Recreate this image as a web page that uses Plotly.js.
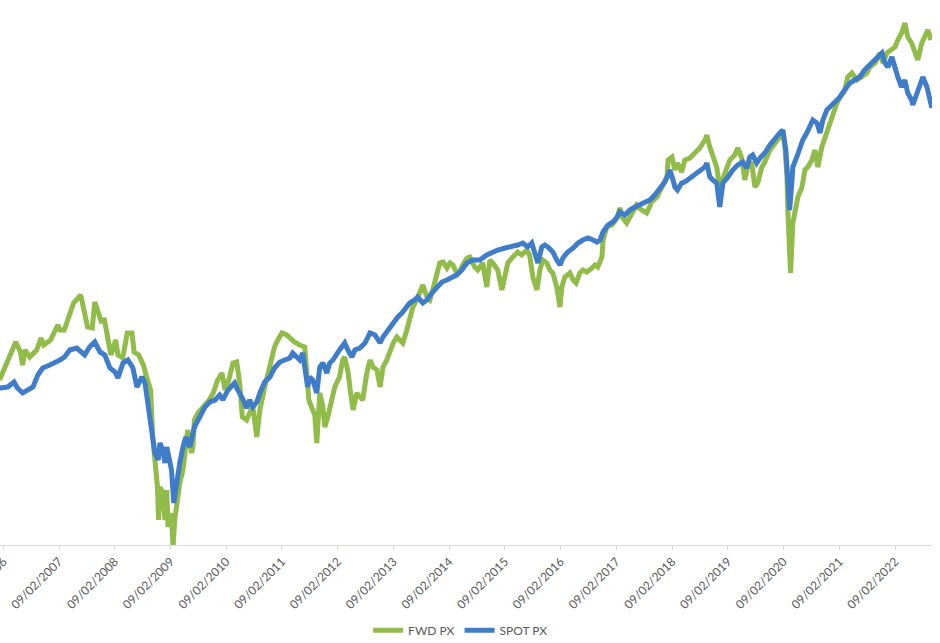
<!DOCTYPE html>
<html>
<head>
<meta charset="utf-8">
<script src="https://cdn.plot.ly/plotly-3.0.1.min.js"></script>
<style>
html,body{margin:0;padding:0;background:#fff;}
#chart{width:940px;height:643px;}
</style>
</head>
<body>
<div id="chart"></div>
<script>
const seriesNames = ['FWD PX', 'SPOT PX'];

const fwdDates = [
'2006-01-15','2006-03-15','2006-05-01','2006-06-01','2006-06-15','2006-07-01','2006-08-01','2006-09-15','2006-10-15','2006-11-01','2006-12-15',
'2007-02-01','2007-02-15','2007-03-15','2007-04-15','2007-05-15','2007-07-01','2007-07-15','2007-08-15','2007-09-15','2007-10-01','2007-10-15','2007-11-15','2007-12-01',
'2008-01-01','2008-01-15','2008-02-15','2008-03-01','2008-04-01','2008-05-01','2008-06-01','2008-06-15','2008-07-15','2008-08-15','2008-09-01','2008-10-01','2008-10-15','2008-11-01','2008-11-15','2008-11-22','2008-12-01','2008-12-20',
'2009-01-03','2009-01-15','2009-01-23','2009-02-15','2009-02-25','2009-03-08','2009-03-20','2009-04-10','2009-05-01','2009-05-20','2009-06-01','2009-06-27','2009-07-05','2009-07-15','2009-08-08','2009-09-10','2009-10-20','2009-11-15','2009-12-15',
'2010-01-12','2010-02-01','2010-02-20','2010-03-25','2010-04-18','2010-05-08','2010-05-25','2010-06-22','2010-07-12','2010-08-02','2010-08-28','2010-09-17','2010-10-19','2010-11-08','2010-12-05','2010-12-22',
'2011-01-13','2011-02-09','2011-03-12','2011-04-13','2011-05-02','2011-06-04','2011-07-08','2011-07-20','2011-08-04','2011-08-24','2011-09-12','2011-09-25','2011-10-02','2011-10-15','2011-11-04','2011-11-17','2011-12-06',
'2012-01-02','2012-01-21','2012-02-21','2012-03-13','2012-03-26','2012-04-18','2012-05-01','2012-05-20','2012-06-13','2012-07-03','2012-07-22','2012-08-18','2012-09-08','2012-09-27','2012-10-23','2012-11-13','2012-12-02','2012-12-27',
'2013-01-16','2013-02-07','2013-03-03','2013-03-22','2013-04-11','2013-05-07','2013-05-26','2013-06-16','2013-07-11','2013-08-01','2013-08-20','2013-09-16','2013-10-05','2013-10-24','2013-11-20','2013-12-09','2013-12-31',
'2014-01-25','2014-02-14','2014-03-05','2014-03-30','2014-04-19','2014-05-09','2014-06-05','2014-06-24','2014-07-26','2014-08-15','2014-09-17','2014-10-13','2014-11-03','2014-11-22','2014-12-24',
'2015-01-20','2015-02-10','2015-02-28','2015-04-02','2015-05-04','2015-05-30','2015-07-02','2015-07-21','2015-08-11','2015-09-07','2015-09-26','2015-10-15','2015-11-11','2015-12-01','2015-12-20',
'2016-01-15','2016-02-05','2016-02-17','2016-03-08','2016-04-10','2016-05-01','2016-05-20','2016-06-14','2016-07-04','2016-07-30','2016-09-02','2016-09-21','2016-10-10','2016-10-24','2016-11-06','2016-11-13','2016-12-08',
'2017-01-11','2017-02-13','2017-03-03','2017-03-22','2017-04-17','2017-05-19','2017-06-21','2017-07-24','2017-08-26','2017-09-28','2017-11-02','2017-12-04',
'2018-01-06','2018-01-13','2018-02-08','2018-02-27','2018-03-16','2018-04-12','2018-05-03','2018-06-05','2018-07-07','2018-08-09','2018-09-12','2018-09-24','2018-10-14','2018-11-03','2018-11-28','2018-12-18',
'2019-01-20','2019-02-22','2019-03-26','2019-04-15','2019-05-11','2019-05-31','2019-06-19','2019-07-15','2019-08-05','2019-08-24','2019-09-20','2019-10-09','2019-11-12','2019-12-14',
'2020-01-15','2020-02-05','2020-02-18','2020-03-02','2020-03-08','2020-03-20','2020-03-26','2020-04-10','2020-04-23','2020-05-13','2020-06-09','2020-06-28','2020-07-17','2020-08-13','2020-09-02','2020-09-21','2020-10-17','2020-11-07','2020-11-26','2020-12-30',
'2021-01-24','2021-02-13','2021-03-16','2021-04-05','2021-05-02','2021-06-04','2021-07-06','2021-08-08','2021-08-27','2021-09-30','2021-11-02','2021-11-22','2021-12-17',
'2022-01-19','2022-02-09','2022-02-27','2022-03-24','2022-04-14','2022-05-03','2022-05-28','2022-06-17','2022-07-08','2022-08-03','2022-08-23','2022-09-12','2022-10-02'
];
const fwdValues = [
220,240,258,248,235,250,243,250,262,255,260,
275,270,270,283,297,305,295,273,272,298,292,277,282,
255,245,260,245,242,267,267,248,245,235,225,210,163,137,113,80,113,107,
80,110,73,87,53,80,93,117,130,163,170,147,153,180,187,193,200,207,220,
227,210,217,237,238,217,183,180,187,193,163,190,213,225,240,253,
260,267,265,260,258,255,253,230,200,192,185,157,180,207,193,173,183,
200,213,223,240,243,227,210,190,207,203,200,227,240,233,230,213,233,240,
250,257,263,260,257,270,283,293,300,310,315,303,300,310,327,337,338,
332,337,335,327,328,335,342,343,333,330,337,313,340,337,330,
310,327,337,343,348,345,350,345,323,310,330,340,337,330,327,
313,293,313,323,327,320,317,327,330,328,332,335,333,337,343,360,373,
375,382,392,382,377,387,395,390,387,398,403,413,
423,440,443,430,437,428,440,442,447,452,460,465,453,445,433,413,
428,440,445,452,442,420,433,438,413,417,433,438,450,457,
463,467,453,425,390,357,327,377,390,403,413,430,433,440,450,433,453,463,473,487,
497,503,510,523,527,520,523,527,533,537,547,537,547,
550,553,560,567,577,563,557,547,540,557,563,570,560
];

const spotDates = [
'2006-01-15','2006-03-10','2006-04-20','2006-05-12','2006-06-16','2006-07-18','2006-08-22','2006-09-23','2006-10-25','2006-12-10',
'2007-01-25','2007-02-15','2007-03-17','2007-04-20','2007-06-05','2007-07-08','2007-07-27','2007-08-28','2007-10-01','2007-11-04','2007-12-06',
'2008-01-08','2008-02-11','2008-03-01','2008-04-03','2008-05-05','2008-06-07','2008-07-03','2008-08-05','2008-08-25','2008-09-14','2008-10-10','2008-10-29','2008-11-20','2008-12-01','2008-12-20',
'2009-01-03','2009-01-15','2009-01-23','2009-02-15','2009-03-02','2009-03-20','2009-04-10','2009-05-01','2009-05-20','2009-06-15','2009-07-15','2009-08-19','2009-09-22','2009-10-24','2009-11-27','2009-12-28',
'2010-01-18','2010-02-20','2010-04-05','2010-04-25','2010-05-25','2010-06-22','2010-07-12','2010-08-02','2010-08-28','2010-09-17','2010-10-19','2010-11-22','2010-12-22',
'2011-01-26','2011-02-28','2011-04-01','2011-04-20','2011-05-22','2011-06-05','2011-06-25','2011-07-08','2011-07-14','2011-07-27','2011-08-10','2011-08-30','2011-09-25','2011-10-15','2011-11-04','2011-11-30','2011-12-19',
'2012-01-09','2012-02-21','2012-03-26','2012-04-16','2012-05-12','2012-06-01','2012-07-03','2012-08-06','2012-09-08','2012-10-10','2012-11-13','2012-12-02',
'2013-01-04','2013-02-07','2013-03-09','2013-04-05','2013-05-07','2013-05-26','2013-06-28','2013-07-17','2013-08-20','2013-09-16','2013-10-18','2013-11-20','2013-12-23',
'2014-01-25','2014-02-26','2014-03-30','2014-05-02','2014-06-05','2014-07-13','2014-08-28','2014-10-13','2014-11-22','2014-12-24',
'2015-02-10','2015-03-25','2015-05-04','2015-06-06','2015-07-08','2015-08-04','2015-08-24','2015-09-13','2015-10-09','2015-10-28','2015-11-17','2015-12-20',
'2016-01-15','2016-02-05','2016-02-24','2016-03-27','2016-05-01','2016-06-02','2016-07-04','2016-08-06','2016-09-09','2016-10-04','2016-10-24','2016-11-13','2016-12-15',
'2017-01-17','2017-02-13','2017-03-03','2017-04-05','2017-05-08','2017-06-10','2017-07-12','2017-08-14','2017-09-16','2017-10-18','2017-11-21','2017-12-23',
'2018-01-13','2018-01-25','2018-02-15','2018-02-27','2018-03-16','2018-04-12','2018-05-03','2018-06-05','2018-07-07','2018-08-09','2018-09-12','2018-09-24','2018-10-14','2018-11-03','2018-11-28','2018-12-18',
'2019-01-08','2019-02-10','2019-03-13','2019-04-15','2019-05-17','2019-06-13','2019-07-03','2019-07-22','2019-08-17','2019-09-08','2019-10-09','2019-11-12','2019-12-14',
'2020-01-15','2020-02-05','2020-02-24','2020-03-08','2020-03-20','2020-04-03','2020-04-10','2020-05-06','2020-05-25','2020-06-14','2020-07-10','2020-07-30','2020-08-19','2020-09-15','2020-10-05','2020-10-24','2020-11-19','2020-12-09',
'2021-01-12','2021-02-13','2021-03-16','2021-04-18','2021-05-20','2021-06-22','2021-07-25','2021-08-27','2021-09-30','2021-10-19','2021-11-15','2021-12-05','2021-12-24',
'2022-01-19','2022-02-09','2022-02-27','2022-03-24','2022-04-14','2022-05-03','2022-05-28','2022-06-05','2022-07-01','2022-07-20','2022-08-10','2022-09-06','2022-09-25','2022-10-08'
];
const spotValues = [
212,213,218,212,207,210,213,225,232,235,
238,240,243,250,252,248,245,253,258,248,245,
232,228,222,237,240,232,213,223,217,193,170,147,140,157,150,
137,153,147,130,97,120,137,153,163,153,173,183,193,198,200,205,
200,210,217,210,202,192,200,193,198,207,218,223,232,
238,240,242,247,243,240,247,235,232,213,223,220,207,233,237,227,237,
240,250,257,250,243,250,252,257,267,265,257,263,
270,277,283,287,293,297,300,303,297,300,307,313,318,
320,322,325,330,337,340,340,345,348,350,
352,353,355,357,353,357,345,337,353,355,353,348,
340,335,342,348,352,357,360,362,360,358,360,368,375,
378,383,388,385,390,393,395,397,400,405,412,418,
425,430,420,413,410,417,418,422,425,430,433,437,423,420,417,393,
417,423,430,435,438,432,443,445,437,442,447,455,462,
467,470,450,420,390,417,433,443,453,460,467,473,480,477,467,480,490,493,
498,503,510,517,520,523,530,535,540,543,547,537,533,
543,530,523,513,520,507,500,495,507,513,523,513,497,492
];

const tickDates = ['2006-02-09','2007-02-09','2008-02-09','2009-02-09','2010-02-09','2011-02-09','2012-02-09','2013-02-09','2014-02-09','2015-02-09','2016-02-09','2017-02-09','2018-02-09','2019-02-09','2020-02-09','2021-02-09','2022-02-09'];
const tickLabels = ['09/02/2006','09/02/2007','09/02/2008','09/02/2009','09/02/2010','09/02/2011','09/02/2012','09/02/2013','09/02/2014','09/02/2015','09/02/2016','09/02/2017','09/02/2018','09/02/2019','09/02/2020','09/02/2021','09/02/2022'];

const traces = [
  {x: fwdDates, y: fwdValues, name: seriesNames[0], type: 'scatter', mode: 'lines',
   line: {color: '#91BC4A', width: 5}},
  {x: spotDates, y: spotValues, name: seriesNames[1], type: 'scatter', mode: 'lines',
   line: {color: '#3F7DC9', width: 5}}
];

const layout = {
  width: 940, height: 643,
  margin: {l: 0, r: 8, t: 0, b: 98},
  paper_bgcolor: '#ffffff', plot_bgcolor: '#ffffff',
  font: {family: 'Lato, "Open Sans", sans-serif', color: '#595959', size: 12},
  showlegend: true,
  legend: {orientation: 'h', xref: 'container', yref: 'container', x: 0.49, xanchor: 'center', y: 0.02, yanchor: 'middle',
           font: {size: 12, color: '#595959'}},
  xaxis: {type: 'date', range: ['2006-01-18', '2022-10-09'], showgrid: false, zeroline: false,
          showline: true, linecolor: '#d9d9d9', linewidth: 1,
          ticks: 'outside', ticklen: 4, tickcolor: '#d9d9d9',
          tickmode: 'array', tickvals: tickDates, ticktext: tickLabels, tickangle: -45,
          ticklabeloverflow: 'allow',
          tickfont: {size: 12, color: '#595959'}, automargin: false},
  yaxis: {visible: false, range: [55, 600], showgrid: false, zeroline: false, automargin: false},
  hovermode: false
};

Plotly.newPlot('chart', traces, layout, {displayModeBar: false, staticPlot: true});
</script>
</body>
</html>
